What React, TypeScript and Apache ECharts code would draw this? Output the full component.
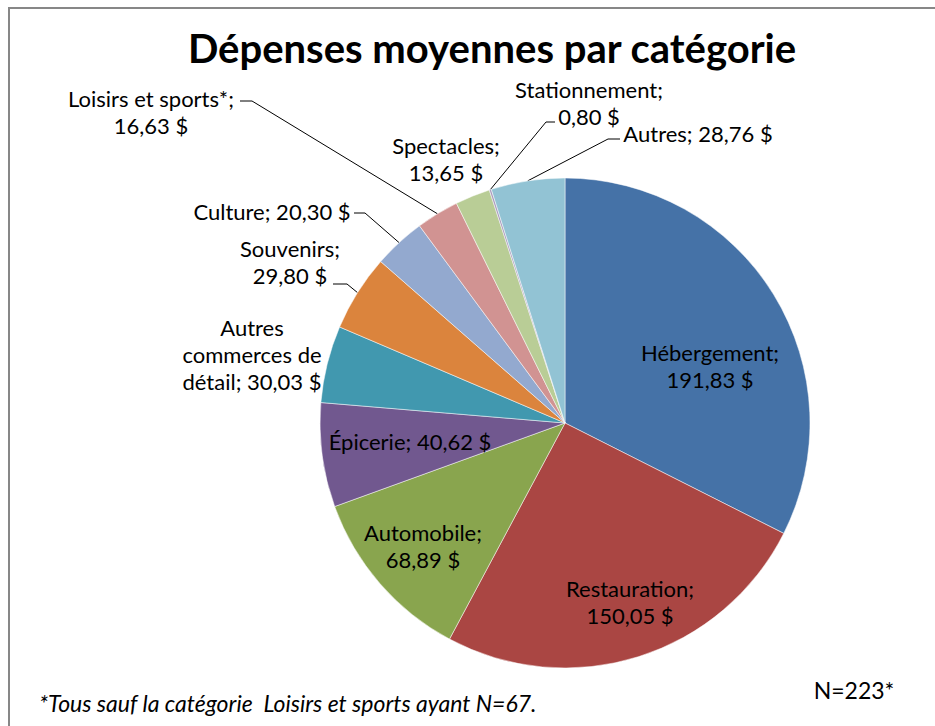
import React, { useEffect, useRef } from 'react';
import * as echarts from 'echarts';

const categories = [
  'Hébergement', 'Restauration', 'Automobile', 'Épicerie', 'Autres commerces de détail',
  'Souvenirs', 'Culture', 'Loisirs et sports*', 'Spectacles', 'Stationnement', 'Autres',
];
const values = [191.83, 150.05, 68.89, 40.62, 30.03, 29.8, 20.3, 16.63, 13.65, 0.8, 28.76];
const colors = [
  '#4572A7', '#AA4643', '#89A54E', '#71588F', '#4198AF', '#DB843D',
  '#93A9CF', '#D19392', '#B9CD96', '#A99BBD', '#92C3D4',
];
// how the name and the value are joined in each label
const labelSeparators = ['\n', '\n', '\n', ' ', ' ', '\n', ' ', '\n', '\n', '\n', ' '];
const wrappedNames: Record<number, string> = { 4: 'Autres\ncommerces de\ndétail' };

// label block centres (layout)
const labelCenters: number[][] = [
  [710, 366], [630, 602], [423, 546], [410, 441], [252, 354], [290, 262],
  [272, 211], [151, 112], [446, 159], [589, 103], [698, 133],
];
// leader lines: bend point and end point next to the text
const leaders: Record<number, number[][]> = {
  5: [[347, 284], [333, 284]],
  6: [[365, 213], [354, 213]],
  7: [[252, 101], [240, 101]],
  9: [[546, 122], [555, 122]],
  10: [[608, 139], [620, 139]],
};

const CX = 565;
const CY = 423;
const R = 245;
const FONT = 'Lato, "Noto Sans", sans-serif';

function fmt(v: number) {
  return v.toFixed(2).replace('.', ',') + ' $';
}

export default function App() {
  const ref = useRef<HTMLDivElement>(null);
  useEffect(() => {
    if (!ref.current) return;
    const chart = echarts.init(ref.current, null, { renderer: 'svg' });
    const total = values.reduce((a, b) => a + b, 0);
    const midAngles: number[] = [];
    let acc = 0;
    values.forEach((v) => {
      midAngles.push(((acc + v / 2) / total) * Math.PI * 2);
      acc += v;
    });

    chart.setOption({
      animation: false,
      backgroundColor: '#ffffff',
      graphic: [
        {
          type: 'rect',
          shape: { x: 9, y: 8, width: 1000, height: 900 },
          style: { fill: 'none', stroke: '#878787', lineWidth: 2 },
          silent: true,
        },
        {
          type: 'text',
          x: 492,
          y: 48,
          style: {
            text: 'Dépenses moyennes par catégorie',
            font: `bold 40px ${FONT}`,
            fill: '#000',
            textAlign: 'center',
            textVerticalAlign: 'middle',
          },
        },
        {
          type: 'text',
          x: 39,
          y: 703,
          style: {
            text: '*Tous sauf la catégorie  Loisirs et sports ayant N=67.',
            font: `italic 23px ${FONT}`,
            fill: '#000',
            textAlign: 'left',
            textVerticalAlign: 'middle',
          },
        },
        {
          type: 'text',
          x: 854,
          y: 690,
          style: {
            text: 'N=223*',
            font: `23px ${FONT}`,
            fill: '#000',
            textAlign: 'center',
            textVerticalAlign: 'middle',
          },
        },
      ],
      series: [
        {
          type: 'pie',
          center: [CX, CY],
          radius: R,
          startAngle: 90,
          clockwise: true,
          avoidLabelOverlap: false,
          itemStyle: { borderColor: '#ffffff', borderWidth: 0.5 },
          label: {
            show: true,
            position: 'outside',
            color: '#000',
            fontFamily: FONT,
            fontSize: 22,
            lineHeight: 27,
            align: 'center',
            formatter: (p: any) => {
              const i = p.dataIndex;
              const name = wrappedNames[i] ?? categories[i];
              return `${name};${labelSeparators[i]}${fmt(values[i])}`;
            },
          },
          labelLine: {
            show: true,
            lineStyle: { color: '#000', width: 1 },
          },
          labelLayout: (p: any) => {
            const i = p.dataIndex;
            const [x, y] = labelCenters[i];
            const out: any = { x, y, align: 'center', verticalAlign: 'middle' };
            if (leaders[i]) {
              const a = midAngles[i];
              const edge = [CX + R * Math.sin(a), CY - R * Math.cos(a)];
              out.labelLinePoints = [edge, leaders[i][0], leaders[i][1]];
            } else {
              out.labelLinePoints = [[x, y], [x, y], [x, y]];
            }
            return out;
          },
          data: categories.map((c, i) => ({
            name: c,
            value: values[i],
            itemStyle: { color: colors[i] },
            labelLine: { show: !!leaders[i] },
          })),
        },
      ],
    });
    return () => chart.dispose();
  }, []);
  return (
    <div
      ref={ref}
      style={{ position: 'absolute', left: 0, top: 0, width: 935, height: 726 }}
    />
  );
}
